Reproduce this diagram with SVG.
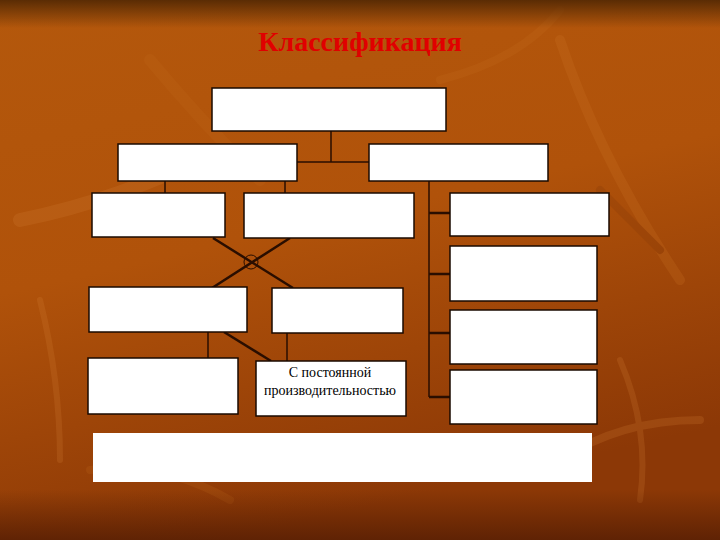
<svg xmlns="http://www.w3.org/2000/svg" width="720" height="540" viewBox="0 0 720 540">
<defs>
<linearGradient id="bg" x1="0" y1="0" x2="0.3" y2="1">
<stop offset="0" stop-color="#b4580c"/>
<stop offset="0.5" stop-color="#b0520a"/>
<stop offset="1" stop-color="#8c3806"/>
</linearGradient>
<linearGradient id="topband" x1="0" y1="0" x2="0" y2="1">
<stop offset="0" stop-color="#5a2c04" stop-opacity="1"/>
<stop offset="1" stop-color="#5a2c04" stop-opacity="0"/>
</linearGradient>
<linearGradient id="botband" x1="0" y1="0" x2="0" y2="1">
<stop offset="0" stop-color="#5a2004" stop-opacity="0"/>
<stop offset="1" stop-color="#5a2004" stop-opacity="0.9"/>
</linearGradient>
<style>
.box{fill:#ffffff;stroke:#1a0a00;stroke-width:1.5}
.ln{stroke:#2a0e00;stroke-width:1.5;fill:none}
.thick{stroke:#2a0e00;stroke-width:2.5;fill:none}
.leaf{fill:none;stroke-linecap:round}
.title{font-family:"Liberation Serif","Times New Roman",serif;font-weight:bold;font-size:28px;fill:#e00000}
.lbl{font-family:"Liberation Serif","Times New Roman",serif;font-size:14px;fill:#000}
</style>
</defs>
<rect width="720" height="540" fill="url(#bg)"/>
<g opacity="0.2">
<path class="leaf" d="M560 40 Q600 160 680 280" stroke="#d27a2a" stroke-width="10"/>
<path class="leaf" d="M600 190 L660 250" stroke="#7a3206" stroke-width="8"/>
<path class="leaf" d="M20 220 Q120 200 220 150" stroke="#d8843a" stroke-width="14"/>
<path class="leaf" d="M40 300 Q60 380 60 460" stroke="#d8843a" stroke-width="6"/>
<path class="leaf" d="M620 360 Q650 430 640 500" stroke="#d8843a" stroke-width="6"/>
<path class="leaf" d="M150 60 Q200 120 260 180" stroke="#c26a1e" stroke-width="12"/>
<path class="leaf" d="M440 80 Q520 60 560 10" stroke="#c67020" stroke-width="8"/>
<path class="leaf" d="M560 460 Q620 420 700 420" stroke="#d8843a" stroke-width="8"/>
<path class="leaf" d="M90 470 Q160 460 230 500" stroke="#c26a1e" stroke-width="8"/>
</g>
<rect width="720" height="28" fill="url(#topband)"/>
<rect y="490" width="720" height="50" fill="url(#botband)"/>
<text class="title" x="360" y="51" text-anchor="middle">Классификация</text>
<g id="connectors">
<path class="ln" d="M331 131 V162 M297 162 H369"/>
<path class="ln" d="M165 181 V193 M285 181 V193"/>
<path class="ln" d="M429 181 V397"/>
<path class="thick" d="M429 213 H450 M429 274 H450 M429 333 H450 M429 397 H450"/>
<path class="thick" d="M213 238 L293 288 M290 238 L212 288"/>
<circle cx="251" cy="262" r="7" fill="none" stroke="#2a0e00" stroke-width="1"/>
<path class="ln" d="M208 332 V358 M287 333 V361"/>
<path class="thick" d="M224 332 L271 361"/>
</g>
<g id="n-top"><rect class="box" x="212" y="88" width="234" height="43"/></g>
<g id="n-l2a"><rect class="box" x="118" y="144" width="179" height="37"/></g>
<g id="n-l2b"><rect class="box" x="369" y="144" width="179" height="37"/></g>
<g id="n-l3a"><rect class="box" x="92" y="193" width="133" height="44"/></g>
<g id="n-l3b"><rect class="box" x="244" y="193" width="170" height="45"/></g>
<g id="n-r1"><rect class="box" x="450" y="193" width="159" height="43"/></g>
<g id="n-r2"><rect class="box" x="450" y="246" width="147" height="55"/></g>
<g id="n-r3"><rect class="box" x="450" y="310" width="147" height="54"/></g>
<g id="n-r4"><rect class="box" x="450" y="370" width="147" height="54"/></g>
<g id="n-l4a"><rect class="box" x="89" y="287" width="158" height="45"/></g>
<g id="n-l4b"><rect class="box" x="272" y="288" width="131" height="45"/></g>
<g id="n-l5a"><rect class="box" x="88" y="358" width="150" height="56"/></g>
<g id="n-l5b"><rect class="box" x="256" y="361" width="150" height="55"/>
<text class="lbl" x="330" y="377" text-anchor="middle">С постоянной</text>
<text class="lbl" x="330" y="395" text-anchor="middle">производительностью</text>
</g>
<g id="n-bottom"><rect x="93" y="433" width="499" height="49" fill="#ffffff"/></g>
</svg>
